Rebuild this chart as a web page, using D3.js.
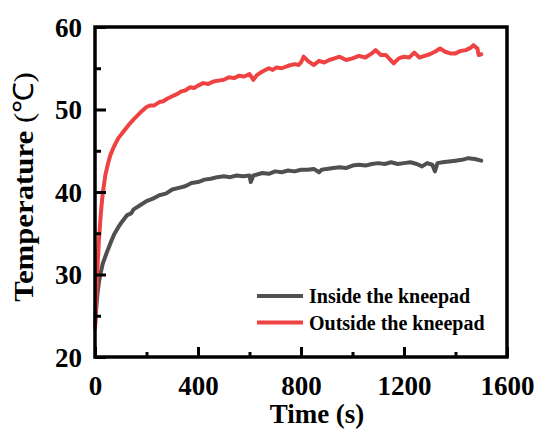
<!DOCTYPE html>
<html>
<head>
<meta charset="utf-8">
<script src="https://cdn.jsdelivr.net/npm/d3@7"></script>
<style>
  body { margin: 0; background: #fff; }
  text { font-family: "Liberation Serif", "Times New Roman", serif; fill: #000; }
</style>
</head>
<body>
<svg id="chart" width="539" height="436"></svg>
<script>

// time (s) and temperature (C)
var outside_t = [0, 5, 10, 15, 20, 25, 30, 40, 50, 60, 75, 90, 110, 130, 150, 175, 200, 215, 230, 250, 265, 280, 300, 320, 335, 350, 370, 385, 400, 420, 440, 460, 480, 500, 520, 540, 560, 580, 600, 615, 630, 650, 675, 690, 705, 725, 750, 775, 790, 800, 810, 830, 850, 870, 890, 910, 930, 950, 975, 1000, 1025, 1050, 1075, 1090, 1110, 1130, 1160, 1180, 1200, 1220, 1240, 1260, 1280, 1300, 1320, 1340, 1360, 1380, 1400, 1420, 1440, 1460, 1470, 1485, 1490, 1500]
var outside_temp = [23.5, 27.5, 31.0, 34.0, 36.3, 38.2, 39.8, 42.0, 43.4, 44.5, 45.6, 46.5, 47.3, 48.1, 48.8, 49.6, 50.3, 50.5, 50.5, 50.9, 51.0, 51.3, 51.6, 51.9, 52.2, 52.3, 52.7, 52.6, 52.9, 53.2, 53.1, 53.4, 53.5, 53.6, 53.9, 53.8, 54.1, 54.0, 54.3, 53.6, 54.2, 54.6, 55.0, 54.8, 55.1, 55.0, 55.3, 55.5, 55.4, 55.7, 56.4, 55.8, 55.4, 55.9, 55.7, 56.0, 56.2, 56.4, 56.0, 56.2, 56.5, 56.3, 56.8, 57.2, 56.6, 56.6, 55.6, 56.2, 56.4, 56.3, 56.9, 56.3, 56.5, 56.7, 57.0, 57.4, 57.0, 56.8, 56.8, 57.1, 57.2, 57.5, 57.8, 57.4, 56.6, 56.7]

var inside_t = [0, 5, 10, 15, 20, 30, 45, 60, 75, 90, 105, 125, 140, 150, 175, 200, 225, 250, 275, 300, 325, 350, 375, 400, 425, 450, 475, 500, 525, 550, 575, 600, 605, 615, 650, 675, 700, 725, 750, 775, 800, 825, 850, 870, 880, 900, 925, 950, 975, 1000, 1025, 1050, 1075, 1100, 1125, 1150, 1175, 1200, 1225, 1250, 1270, 1290, 1310, 1320, 1330, 1350, 1375, 1400, 1425, 1450, 1475, 1500]
var inside_temp = [23.7, 26.0, 27.8, 29.0, 29.9, 31.3, 32.6, 33.8, 34.9, 35.7, 36.4, 37.2, 37.4, 37.9, 38.4, 38.9, 39.2, 39.6, 39.8, 40.3, 40.5, 40.7, 41.1, 41.2, 41.5, 41.6, 41.8, 41.9, 41.8, 42.0, 41.9, 42.0, 41.2, 42.0, 42.3, 42.2, 42.5, 42.4, 42.6, 42.5, 42.7, 42.7, 42.8, 42.4, 42.7, 42.8, 42.9, 43.0, 42.9, 43.2, 43.3, 43.2, 43.4, 43.5, 43.4, 43.6, 43.4, 43.5, 43.6, 43.4, 43.1, 43.5, 43.3, 42.5, 43.5, 43.6, 43.7, 43.8, 43.9, 44.1, 44.0, 43.8]

var series_names = ["Inside the kneepad", "Outside the kneepad"]
var series_colours = ["#505050", "#ef4343"]

var x_major = [0, 400, 800, 1200, 1600]
var x_minor = [200, 600, 1000, 1400]
var y_major = [20, 30, 40, 50, 60]
var y_minor = [25, 35, 45, 55]

var margin = {top: 27, right: 32, bottom: 79, left: 95}
var width = 539 - margin.left - margin.right
var height = 436 - margin.top - margin.bottom

var svg = d3.select("#chart")
var g = svg.append("g")
	.attr("transform", "translate(" + margin.left + "," + margin.top + ")")

var x = d3.scaleLinear().domain([0, 1600]).range([0, width])
var y = d3.scaleLinear().domain([20, 60]).range([height, 0])

// data lines
var line = d3.line()
	.x(function(d) {return x(d[0])})
	.y(function(d) {return y(d[1])})

var series = [d3.zip(inside_t, inside_temp), d3.zip(outside_t, outside_temp)]

g.selectAll(".temp_line")
	.data(series)
	.enter()
	.append("path")
	.attr("class", "temp_line")
	.attr("d", line)
	.attr("fill", "none")
	.attr("stroke", function(d, i) {return series_colours[i]})
	.attr("stroke-width", 4)
	.attr("stroke-linejoin", "round")
	.attr("stroke-linecap", "round")

// axes, ticks pointing inwards
var x_axis = g.append("g")
	.attr("transform", "translate(0," + height + ")")
	.call(d3.axisBottom(x).tickValues(x_major).tickFormat(d3.format("d")).tickSizeInner(-10).tickSizeOuter(0))
g.append("g")
	.attr("transform", "translate(0," + height + ")")
	.call(d3.axisBottom(x).tickValues(x_minor).tickFormat("").tickSizeInner(-5).tickSizeOuter(0))

var y_axis = g.append("g")
	.call(d3.axisLeft(y).tickValues(y_major).tickSizeInner(-11).tickSizeOuter(0))
g.append("g")
	.call(d3.axisLeft(y).tickValues(y_minor).tickFormat("").tickSizeInner(-6).tickSizeOuter(0))

g.selectAll(".domain").remove()
g.selectAll(".tick line").attr("stroke", "#000").attr("stroke-width", 3)

x_axis.selectAll("text")
	.attr("y", 38)
	.attr("dy", 0)
	.style("font-size", "27px")
	.style("font-weight", "bold")

y_axis.selectAll("text")
	.attr("x", -13)
	.attr("dy", "0.34em")
	.style("font-size", "27px")
	.style("font-weight", "bold")

// frame
g.append("rect")
	.attr("width", width)
	.attr("height", height)
	.attr("fill", "none")
	.attr("stroke", "#000")
	.attr("stroke-width", 3.5)

// axis titles
svg.append("text")
	.attr("x", 317)
	.attr("y", 423)
	.attr("text-anchor", "middle")
	.style("font-size", "27px")
	.style("font-weight", "bold")
	.text("Time (s)")

var y_title = svg.append("text")
	.attr("transform", "translate(33," + 187 + ") rotate(-90) scale(1.1,1)")
	.attr("text-anchor", "middle")
	.style("font-size", "28px")
y_title.append("tspan").style("font-weight", "bold").text("Temperature")
y_title.append("tspan").text(" (℃)")

// legend
var legend = g.append("g")
	.attr("transform", "translate(" + (257 - margin.left) + "," + (296 - margin.top) + ")")

var legend_rows = legend.selectAll(".legend_row")
	.data(series_names)
	.enter()
	.append("g")
	.attr("class", "legend_row")
	.attr("transform", function(d, i) {return "translate(0," + i * 26.5 + ")"})

legend_rows.append("line")
	.attr("x1", 0)
	.attr("x2", 46)
	.attr("stroke", function(d, i) {return series_colours[i]})
	.attr("stroke-width", 4)

legend_rows.append("text")
	.attr("x", 52)
	.attr("y", 7)
	.style("font-size", "20px")
	.style("font-weight", "bold")
	.text(function(d) {return d})

</script>
</body>
</html>
